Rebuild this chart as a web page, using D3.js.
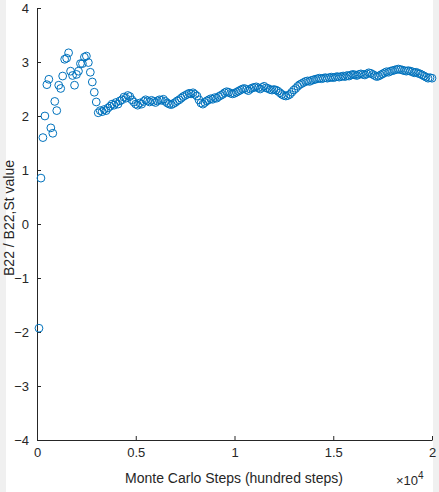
<!DOCTYPE html><html><head><meta charset="utf-8"><script src="https://cdn.jsdelivr.net/npm/d3@7"></script>
<style>body{margin:0;background:#fff}text{font-family:"Liberation Sans",Arial,sans-serif;fill:#262626}</style></head><body><svg id="c" width="439" height="492"></svg><script>
const steps=d3.range(100,20001,100);
const values=[-1.93,0.85,1.60,2.00,2.58,2.68,1.78,1.68,2.27,2.10,
2.57,2.51,2.74,3.05,3.07,3.17,2.83,2.75,2.57,2.77,
2.83,2.97,2.97,3.09,3.11,2.99,2.81,2.63,2.44,2.26,
2.06,2.10,2.08,2.12,2.10,2.15,2.18,2.22,2.20,2.25,
2.22,2.28,2.30,2.35,2.33,2.38,2.36,2.30,2.26,2.22,
2.20,2.24,2.22,2.27,2.30,2.28,2.26,2.29,2.27,2.25,
2.28,2.30,2.29,2.31,2.27,2.24,2.22,2.21,2.23,2.25,
2.28,2.30,2.33,2.36,2.38,2.40,2.42,2.41,2.43,2.40,
2.37,2.30,2.24,2.22,2.25,2.28,2.30,2.32,2.31,2.34,
2.33,2.36,2.38,2.40,2.43,2.45,2.44,2.42,2.41,2.42,
2.44,2.46,2.48,2.50,2.51,2.49,2.47,2.50,2.52,2.53,
2.54,2.52,2.50,2.53,2.55,2.52,2.51,2.49,2.48,2.49,
2.48,2.46,2.43,2.40,2.38,2.37,2.38,2.40,2.44,2.48,
2.51,2.55,2.58,2.60,2.62,2.64,2.65,2.64,2.66,2.67,
2.68,2.69,2.70,2.69,2.70,2.71,2.70,2.71,2.72,2.71,
2.72,2.73,2.72,2.73,2.74,2.73,2.75,2.74,2.76,2.77,
2.76,2.75,2.77,2.78,2.77,2.76,2.78,2.80,2.79,2.77,
2.75,2.73,2.74,2.76,2.78,2.80,2.82,2.81,2.83,2.84,
2.85,2.86,2.87,2.86,2.85,2.84,2.83,2.84,2.83,2.82,
2.80,2.81,2.79,2.78,2.76,2.74,2.72,2.70,2.71,2.70];
const xTicks=[0,5000,10000,15000,20000], xTickLabels=["0","0.5","1","1.5","2"];
const yTicks=[-4,-3,-2,-1,0,1,2,3,4];
const svg=d3.select("#c");
svg.append("rect").attr("x",0).attr("y",0).attr("width",6).attr("height",492).attr("fill","#f0f0f0");
svg.append("rect").attr("x",433).attr("y",0).attr("width",6).attr("height",492).attr("fill","#f0f0f0");
const x=d3.scaleLinear().domain([0,20000]).range([37,432]);
const y=d3.scaleLinear().domain([-4,4]).range([440,8]);
const gx=svg.append("g").attr("transform","translate(0,440)").call(d3.axisBottom(x).tickValues(xTicks).tickFormat((d,i)=>xTickLabels[i]).tickSizeInner(-4).tickSizeOuter(0).tickPadding(8));
const gy=svg.append("g").attr("transform","translate(37,0)").call(d3.axisLeft(y).tickValues(yTicks).tickSizeInner(-4).tickSizeOuter(0).tickPadding(8));
[gx,gy].forEach(g=>{g.selectAll("path,line").attr("stroke","#262626");g.selectAll("text").attr("font-size",13).style("fill","#262626").attr("font-family","Liberation Sans, Arial, sans-serif");});
svg.append("g").selectAll("circle").data(steps).join("circle").attr("cx",d=>x(d)).attr("cy",(d,i)=>y(values[i])).attr("r",3.9).attr("fill","none").attr("stroke","#0072BD").attr("stroke-width",1);
svg.append("text").attr("x",234).attr("y",483).attr("text-anchor","middle").attr("font-size",14).text("Monte Carlo Steps (hundred steps)");
svg.append("text").attr("transform","translate(14,218) rotate(-90)").attr("text-anchor","middle").attr("font-size",14).text("B22 / B22,St value");
const t=svg.append("text").attr("x",396).attr("y",485).attr("font-size",13);
t.append("tspan").text("×10");t.append("tspan").attr("dy",-6).attr("font-size",10).text("4");
</script></body></html>
